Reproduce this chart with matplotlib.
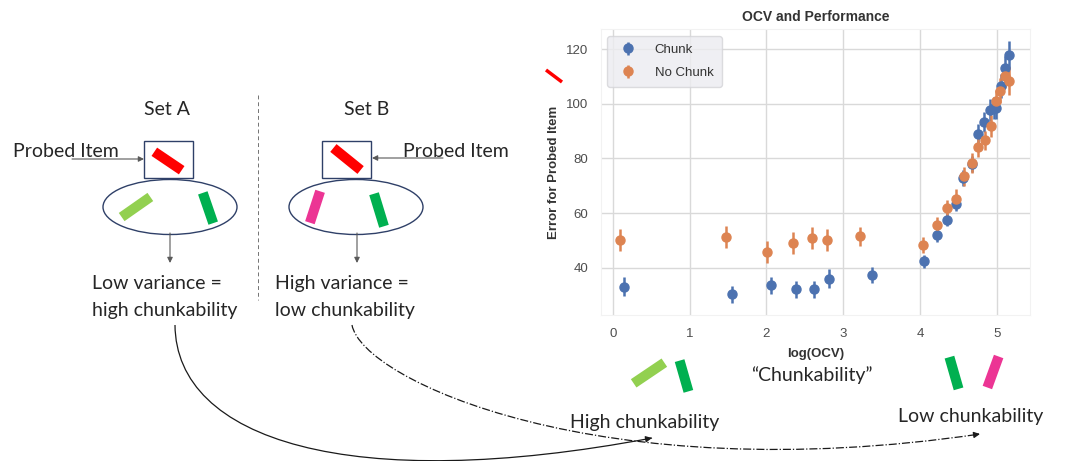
import numpy as np
import matplotlib.pyplot as plt
import seaborn as sns
from matplotlib.patches import Rectangle, Ellipse, PathPatch
from matplotlib.path import Path

# log(OCV) vs error, chunk / no-chunk conditions
chunk_x = [0.15, 1.55, 2.06, 2.39, 2.62, 2.82, 3.37, 4.05, 4.22, 4.35, 4.47,
           4.56, 4.67, 4.75, 4.83, 4.91, 4.96, 4.99, 5.05, 5.10, 5.16]
chunk_y = [33.0, 30.2, 33.5, 32.1, 32.1, 36.0, 37.4, 42.3, 51.8, 57.6, 63.4,
           72.9, 77.9, 89.0, 93.3, 97.6, 98.3, 98.5, 106.5, 113.0, 117.8]
chunk_err = [3.5, 3, 3, 3, 3, 3.5, 3, 2.5, 2.5, 2.5, 2.5,
             3, 3, 3.5, 3.5, 4, 4, 4, 4.5, 4.5, 5]

nochunk_x = [0.10, 1.48, 2.01, 2.34, 2.59, 2.79, 3.22, 4.04, 4.22, 4.35,
             4.47, 4.57, 4.67, 4.75, 4.84, 4.92, 4.99, 5.04, 5.10, 5.16]
nochunk_y = [50.0, 51.3, 45.6, 49.0, 51.0, 50.0, 51.5, 48.4, 55.7, 61.8,
             65.2, 73.5, 78.3, 84.1, 86.6, 91.8, 101.1, 104.8, 110.1, 108.3]
nochunk_err = [4, 4, 4, 4, 4, 4, 3.5, 3, 3, 3,
               3.5, 3.5, 3.5, 3.5, 3.5, 4, 4, 4.5, 4.5, 5]

sns.set_style("whitegrid")
plt.rcParams['font.family'] = ['Liberation Sans', 'DejaVu Sans']

fig = plt.figure(figsize=(10.68, 4.61), dpi=100)
ax = fig.add_axes([0.5625, 0.3167, 0.402, 0.6197])

blue, orange = '#4C72B0', '#DD8452'
ax.errorbar(chunk_x, chunk_y, yerr=chunk_err, fmt='o', color=blue, ms=6.5,
            elinewidth=1.8, capsize=0, label='Chunk')
ax.errorbar(nochunk_x, nochunk_y, yerr=nochunk_err, fmt='o', color=orange, ms=6.5,
            elinewidth=1.8, capsize=0, label='No Chunk')

ax.set_xlim(-0.156, 5.43)
ax.set_ylim(22.7, 127.2)
ax.set_xticks([0, 1, 2, 3, 4, 5])
ax.set_yticks([40, 60, 80, 100, 120])
ax.tick_params(labelsize=9.5, colors='0.3', length=0, pad=9)
ax.grid(color='0.85', lw=1)
for s in ax.spines.values():
    s.set_color('#f2f2f2')
ax.set_title('OCV and Performance', fontsize=10, fontweight='bold', color='0.2', pad=6)
ax.set_xlabel('log(OCV)', fontsize=9.5, fontweight='bold', color='0.2', labelpad=6)
ax.set_ylabel('Error for Probed Item', fontsize=9.5, fontweight='bold', color='0.2', labelpad=4)
leg = ax.legend(loc='upper left', fontsize=9.5, frameon=True, borderpad=0.6,
                handletextpad=1.0, labelspacing=0.8)
leg.get_frame().set_facecolor('#ECECF0')
leg.get_frame().set_edgecolor('#d4d4d8')
for t in leg.get_texts():
    t.set_color('0.2')

# schematic drawn in pixel coordinates on a transparent overlay
ov = fig.add_axes([0, 0, 1, 1], zorder=3)
ov.set_xlim(0, 1068)
ov.set_ylim(461, 0)
ov.axis('off')
ov.patch.set_alpha(0)

font = ['Lato', 'DejaVu Sans']
fs = 14
red, lgreen, dgreen, pink = '#FF0000', '#92D050', '#00B050', '#EC3594'
navy = '#2F4068'


def bar(cx, cy, length, angle, color, width=7.2):
    a = np.deg2rad(angle)
    dx, dy = length / 2 * np.cos(a), -length / 2 * np.sin(a)
    ov.plot([cx - dx, cx + dx], [cy - dy, cy + dy], color=color, lw=width,
            solid_capstyle='butt')


def arrow(x0, y0, x1, y1, color='0.35'):
    ov.annotate('', xy=(x1, y1), xytext=(x0, y0),
                arrowprops=dict(arrowstyle='-|>', color=color, lw=0.8,
                                mutation_scale=8, shrinkA=0, shrinkB=0))


# Set A / Set B
ov.text(167, 109, 'Set A', ha='center', va='center', fontsize=fs, family=font)
ov.text(367, 109, 'Set B', ha='center', va='center', fontsize=fs, family=font)
ov.plot([258, 258], [95, 300], color='0.45', lw=0.7, ls=(0, (4, 3)))

for x0 in (144, 322):
    ov.add_patch(Rectangle((x0, 141), 49, 37, fill=False, ec=navy, lw=1.0))
for cx in (170, 356):
    ov.add_patch(Ellipse((cx, 207), 134, 55, fill=False, ec=navy, lw=1.0))

bar(168, 161, 33, -34, red)
bar(347, 159, 35, -39, red)
bar(136, 207, 35, 35, lgreen)
bar(208, 208, 32, -71, dgreen)
bar(315, 207, 33, 72, pink)
bar(379, 210, 34, -73, dgreen)

ov.text(13, 151, 'Probed Item', ha='left', va='center', fontsize=fs, family=font)
ov.text(403, 151, 'Probed Item', ha='left', va='center', fontsize=fs, family=font)
arrow(72, 159, 144, 159)
arrow(443, 158, 372, 158)
arrow(170, 233, 170, 263)
arrow(357, 233, 357, 263)

ov.text(92, 283, 'Low variance =', ha='left', va='center', fontsize=fs, family=font)
ov.text(92, 310, 'high chunkability', ha='left', va='center', fontsize=fs, family=font)
ov.text(275, 283, 'High variance =', ha='left', va='center', fontsize=fs, family=font)
ov.text(275, 310, 'low chunkability', ha='left', va='center', fontsize=fs, family=font)

# red probe mark beside the y label
bar(554, 76, 20, -37, red, width=2.5)

# chunkability scale under the x axis
bar(649, 373, 37, 34, lgreen)
bar(684, 376, 32, -74, dgreen)
bar(954, 373, 33, -74, dgreen)
bar(993, 372, 33, 70, pink)
ov.text(812, 375, '\u201cChunkability\u201d', ha='center', va='center', fontsize=fs, family=font)
ov.text(570, 422, 'High chunkability', ha='left', va='center', fontsize=fs, family=font)
ov.text(898, 416, 'Low chunkability', ha='left', va='center', fontsize=fs, family=font)


def curve(p, ls):
    codes = [Path.MOVETO, Path.CURVE4, Path.CURVE4, Path.CURVE4]
    ov.add_patch(PathPatch(Path(p, codes), fill=False, ec='0.1', lw=0.9, ls=ls))
    end = np.array(p[3], float)
    tang = end - np.array(p[2], float)
    tang /= np.hypot(*tang)
    ov.annotate('', xy=end, xytext=end - tang * 6,
                arrowprops=dict(arrowstyle='-|>', color='0.1', lw=0.9,
                                mutation_scale=9, shrinkA=0, shrinkB=0))


curve([(175, 325), (176, 440), (350, 495), (652, 438)], '-')
curve([(352, 325), (362, 380), (600, 490), (980, 434)], '-.')

fig.savefig('out.png', dpi=100)
